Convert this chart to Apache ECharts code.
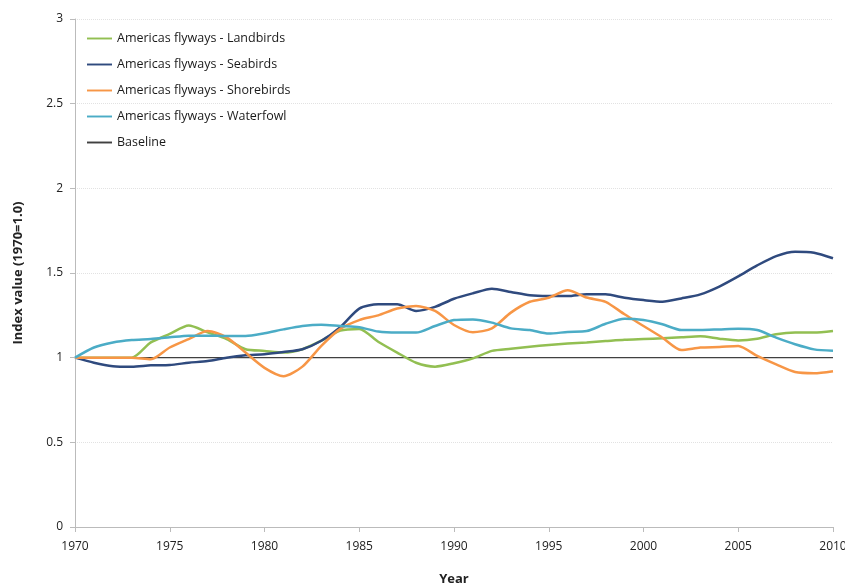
<!DOCTYPE html>
<html>
<head>
<meta charset="utf-8">
<script src="https://cdn.jsdelivr.net/npm/echarts@6/dist/echarts.min.js"></script>
<style>
  html, body { margin: 0; padding: 0; background: #fff; }
  #main { width: 845px; height: 587px; }
</style>
</head>
<body>
<div id="main"></div>
<script>
var years = [];
for (var y = 1970; y <= 2010; y++) years.push(y);

var landbirds = [1.0, 1.0, 1.0, 1.0, 1.09, 1.14, 1.19, 1.15, 1.11, 1.05, 1.04, 1.03, 1.05, 1.1, 1.16,
  1.17, 1.094, 1.03, 0.97, 0.947, 0.967, 0.996, 1.04, 1.053, 1.065, 1.075, 1.083, 1.09, 1.098, 1.106,
  1.11, 1.114, 1.12, 1.126, 1.112, 1.102, 1.112, 1.138, 1.148, 1.148, 1.157];
var seabirds = [1.0, 0.97, 0.95, 0.947, 0.955, 0.957, 0.97, 0.98, 1.0, 1.014, 1.02, 1.033, 1.05, 1.1, 1.18,
  1.29, 1.315, 1.315, 1.276, 1.3, 1.348, 1.38, 1.407, 1.388, 1.368, 1.364, 1.364, 1.374, 1.374, 1.354,
  1.34, 1.33, 1.35, 1.374, 1.42, 1.48, 1.545, 1.6, 1.626, 1.62, 1.587];
var shorebirds = [1.0, 1.0, 1.0, 1.0, 0.99, 1.06, 1.11, 1.157, 1.12, 1.03, 0.94, 0.89, 0.947, 1.07, 1.17,
  1.222, 1.25, 1.29, 1.305, 1.276, 1.193, 1.15, 1.173, 1.266, 1.33, 1.354, 1.398, 1.355, 1.33, 1.256,
  1.187, 1.118, 1.045, 1.06, 1.063, 1.069, 1.01, 0.96, 0.915, 0.908, 0.92];
var waterfowl = [1.0, 1.06, 1.09, 1.104, 1.11, 1.12, 1.13, 1.13, 1.128, 1.128, 1.144, 1.167, 1.187, 1.195, 1.187,
  1.18, 1.154, 1.148, 1.148, 1.187, 1.222, 1.226, 1.207, 1.173, 1.163, 1.142, 1.152, 1.157, 1.2, 1.23,
  1.222, 1.197, 1.163, 1.163, 1.167, 1.171, 1.163, 1.118, 1.079, 1.049, 1.041];
var baseline = years.map(function () { return 1; });

var seriesNames = ['Americas flyways - Landbirds', 'Americas flyways - Seabirds',
  'Americas flyways - Shorebirds', 'Americas flyways - Waterfowl', 'Baseline'];
var colors = ['#92bf52', '#2f4a7e', '#f79646', '#4bacc6', '#404040'];
var values = [landbirds, seabirds, shorebirds, waterfowl, baseline];

function pairs(arr) {
  return arr.map(function (v, i) { return [years[i], v]; });
}

var myChart = echarts.init(document.getElementById('main'));

var option = {
  animation: false,
  textStyle: { fontFamily: 'Open Sans' },
  grid: { left: 75, right: 12, top: 19, bottom: 60, outerBoundsMode: 'none', containLabel: false },
  legend: {
    orient: 'vertical',
    left: 82,
    top: 27,
    itemGap: 13,
    itemWidth: 25,
    itemHeight: 16,
    icon: 'path://M0,7 L26,7 L26,9 L0,9 Z',
    textStyle: { fontSize: 12.5, color: '#1a1a1a', fontFamily: 'Open Sans' },
    data: seriesNames
  },
  xAxis: {
    type: 'value',
    min: 1970, max: 2010, interval: 5,
    name: 'Year',
    nameLocation: 'middle',
    nameGap: 46,
    nameTextStyle: { fontWeight: 'bold', fontSize: 13, color: '#222' },
    axisLine: { lineStyle: { color: '#bbb' } },
    axisTick: { show: true, length: 5, lineStyle: { color: '#bbb' } },
    axisLabel: { color: '#222', fontSize: 12, margin: 14, formatter: function (v) { return String(v); } },
    splitLine: { show: false }
  },
  yAxis: {
    type: 'value',
    min: 0, max: 3, interval: 0.5,
    name: 'Index value (1970=1.0)',
    nameLocation: 'middle',
    nameGap: 50,
    nameTextStyle: { fontWeight: 'bold', fontSize: 13, color: '#222' },
    axisLine: { show: true, lineStyle: { color: '#bbb' } },
    axisTick: { show: true, length: 5, lineStyle: { color: '#bbb' } },
    axisLabel: { color: '#222', fontSize: 12, margin: 12 },
    splitLine: { show: true, lineStyle: { color: '#e2e2e2', type: 'dotted', width: 1 } }
  },
  series: seriesNames.map(function (name, i) {
    return {
      name: name,
      type: 'line',
      data: pairs(values[i]),
      showSymbol: false,
      smooth: i === 4 ? false : 0.25,
      z: i === 4 ? 1 : 2 + i,
      itemStyle: { color: colors[i] },
      lineStyle: { color: colors[i], width: i === 4 ? 1.2 : 2.5 }
    };
  })
};

myChart.setOption(option);
</script>
</body>
</html>
